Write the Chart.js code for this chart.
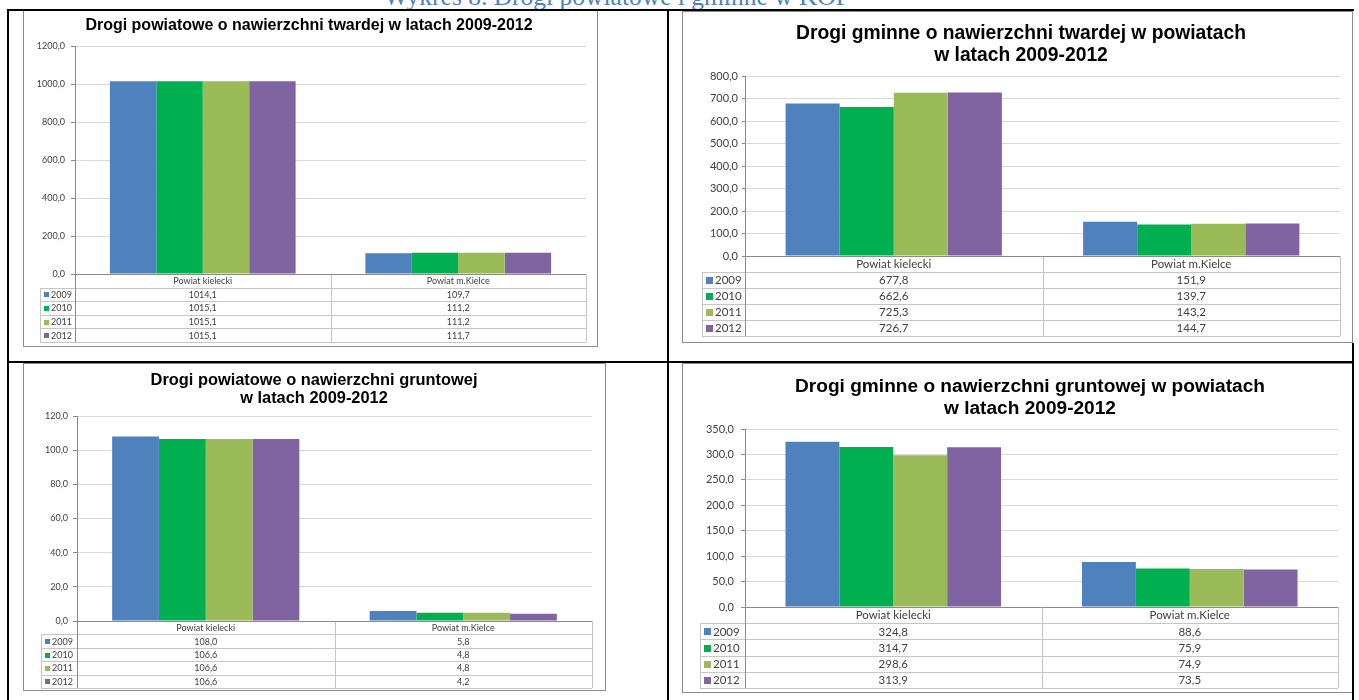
<!DOCTYPE html>
<html>
<head>
<meta charset="utf-8">
<script src="https://cdn.jsdelivr.net/npm/chart.js@4.4.1/dist/chart.umd.min.js"></script>
<style>
html, body { margin: 0; padding: 0; background: #fff; }
#page { position: relative; width: 1359px; height: 700px; overflow: hidden; background: #fff; }
.caption { position: absolute; left: 0; width: 1234px; top: -15px; text-align: center;
  font-family: "Liberation Serif", "DejaVu Serif", serif; font-size: 25.5px; line-height: 24px; color: #4f81bd; white-space: nowrap; }
.frame { position: absolute; border: 1px solid #8c8c8c; background: #fff; }
.frame canvas { display: block; }
.rule { position: absolute; background: #000; }
</style>
</head>
<body>
<div id="page">
  <div class="caption">Wykres 8. Drogi powiatowe i gminne w KOF</div>

  <div class="frame" style="left:23px;top:10px;width:573px;height:335px;"><canvas id="c1" width="573" height="335"></canvas></div>
  <div class="frame" style="left:682px;top:11px;width:669px;height:330px;"><canvas id="c2" width="669" height="330"></canvas></div>
  <div class="frame" style="left:23px;top:363px;width:581px;height:326px;"><canvas id="c3" width="581" height="326"></canvas></div>
  <div class="frame" style="left:682px;top:363px;width:669px;height:328px;"><canvas id="c4" width="669" height="328"></canvas></div>

  <div class="rule" style="left:7px;top:9px;width:1347px;height:2px;"></div>
  <div class="rule" style="left:7px;top:9px;width:2px;height:691px;"></div>
  <div class="rule" style="left:667px;top:9px;width:2px;height:691px;"></div>
  <div class="rule" style="left:7px;top:361px;width:1347px;height:2px;"></div>
  <div class="rule" style="left:1352px;top:343px;width:2px;height:357px;"></div>
</div>

<script>
// Shared categories and series
const categories = ['Powiat kielecki', 'Powiat m.Kielce'];
const years = ['2009', '2010', '2011', '2012'];
const yearColors = ['#4f81bd', '#00b050', '#9bbb59', '#8064a2'];

// Drogi powiatowe o nawierzchni twardej
const powTwarda2009 = [1014.1, 109.7];
const powTwarda2010 = [1015.1, 111.2];
const powTwarda2011 = [1015.1, 111.2];
const powTwarda2012 = [1015.1, 111.7];

// Drogi gminne o nawierzchni twardej
const gmTwarda2009 = [677.8, 151.9];
const gmTwarda2010 = [662.6, 139.7];
const gmTwarda2011 = [725.3, 143.2];
const gmTwarda2012 = [726.7, 144.7];

// Drogi powiatowe o nawierzchni gruntowej
const powGrunt2009 = [108.0, 5.8];
const powGrunt2010 = [106.6, 4.8];
const powGrunt2011 = [106.6, 4.8];
const powGrunt2012 = [106.6, 4.2];

// Drogi gminne o nawierzchni gruntowej
const gmGrunt2009 = [324.8, 88.6];
const gmGrunt2010 = [314.7, 75.9];
const gmGrunt2011 = [298.6, 74.9];
const gmGrunt2012 = [313.9, 73.5];

// Value axis ranges: [max, step]
const axisPowTwarda = [1200, 200];
const axisGmTwarda = [800, 100];
const axisPowGrunt = [120, 20];
const axisGmGrunt = [350, 50];

const FONT = 'Lato, "Liberation Sans", sans-serif';
const TITLE_FONT = '"Liberation Sans", Arial, sans-serif';
const fmt = v => v.toFixed(1).replace('.', ',');

// Moves the title block so its centre sits at a chosen x inside the canvas
const titleOffsetPlugin = {
  id: 'titleOffset',
  afterLayout(chart, args, opts) {
    const t = chart.titleBlock;
    if (!t || opts.center == null) return;
    const dx = opts.center - (t.left + t.right) / 2;
    t.left += dx;
    t.right += dx;
  }
};

// Draws the Excel-style data table underneath the plot, aligned to the category scale
const dataTablePlugin = {
  id: 'dataTable',
  afterDraw(chart, args, opts) {
    const { ctx, chartArea: ca, scales: { x } } = chart;
    const sets = chart.data.datasets;
    const rows = sets.length + 1;
    const rowH = x.height / rows;
    const top = ca.bottom;
    const bottom = top + x.height;
    const left = ca.left, right = ca.right;
    const legLeft = opts.legendLeft;
    const mid = (x.getPixelForValue(0) + x.getPixelForValue(1)) / 2;
    const px = v => Math.round(v) + 0.5;

    ctx.save();
    ctx.lineWidth = 1;
    ctx.strokeStyle = '#c6c6c6';
    ctx.beginPath();
    for (let r = 1; r <= rows; r++) {
      const y = px(top + rowH * r);
      ctx.moveTo(legLeft, y); ctx.lineTo(right, y);
    }
    ctx.moveTo(px(mid), top); ctx.lineTo(px(mid), bottom);
    ctx.moveTo(px(right), top); ctx.lineTo(px(right), bottom);
    ctx.moveTo(px(legLeft), px(top + rowH)); ctx.lineTo(px(legLeft), bottom);
    ctx.stroke();

    // value axis and category axis lines continuing through the table
    ctx.strokeStyle = '#8a8a8a';
    ctx.beginPath();
    ctx.moveTo(left, px(top)); ctx.lineTo(right, px(top));
    ctx.moveTo(px(left), top); ctx.lineTo(px(left), bottom);
    ctx.stroke();

    ctx.fillStyle = '#404040';
    ctx.font = opts.fontSize + 'px ' + FONT;
    ctx.textBaseline = 'middle';
    ctx.textAlign = 'center';
    const colCenters = [(left + mid) / 2, (mid + right) / 2];
    chart.data.labels.forEach((lab, i) => ctx.fillText(lab, colCenters[i], top + rowH / 2 + 0.5));

    const sq = Math.round(opts.fontSize * 0.6);
    sets.forEach((ds, r) => {
      const cy = top + rowH * (r + 1.5) + 0.5;
      ctx.fillStyle = ds.backgroundColor;
      ctx.fillRect(legLeft + 4, Math.round(cy - sq / 2), sq, sq);
      ctx.fillStyle = '#404040';
      ctx.textAlign = 'left';
      ctx.fillText(ds.label, legLeft + 6 + sq, cy);
      ctx.textAlign = 'center';
      ds.data.forEach((v, i) => ctx.fillText(fmt(v), colCenters[i], cy));
    });
    ctx.restore();
  }
};

function makeChart(id, titleLines, series, axis, L) {
  new Chart(document.getElementById(id), {
    type: 'bar',
    data: {
      labels: categories,
      datasets: series.map((values, i) => ({
        label: years[i],
        data: values,
        backgroundColor: yearColors[i],
        borderWidth: 0,
        categoryPercentage: 0.727,
        barPercentage: 1.0
      }))
    },
    options: {
      responsive: false,
      animation: false,
      devicePixelRatio: 1,
      layout: { padding: { left: L.padL, right: L.padR, top: 0, bottom: L.padB } },
      plugins: {
        legend: { display: false },
        tooltip: { enabled: false },
        title: {
          display: true,
          text: titleLines,
          color: '#000',
          font: { family: TITLE_FONT, size: L.titleSize, weight: 'bold', lineHeight: L.titleLH + 'px' },
          padding: { top: L.titleTop, bottom: L.titleBottom }
        },
        titleOffset: { center: L.titleCenter },
        dataTable: { legendLeft: L.legendLeft, fontSize: L.tableSize }
      },
      scales: {
        x: {
          grid: { display: false },
          border: { display: false },
          ticks: { display: false },
          afterFit: s => { s.height = L.xHeight; }
        },
        y: {
          min: 0,
          max: axis[0],
          afterFit: s => { s.width = L.yWidth; },
          grid: { color: '#d9d9d9', tickColor: '#8a8a8a', tickLength: L.tickLen, drawTicks: true },
          border: { color: '#8a8a8a' },
          ticks: {
            stepSize: axis[1],
            padding: L.tickPad,
            color: '#404040',
            font: { family: FONT, size: L.tickSize },
            callback: v => fmt(v)
          }
        }
      }
    },
    plugins: [titleOffsetPlugin, dataTablePlugin]
  });
}

makeChart('c1', 'Drogi powiatowe o nawierzchni twardej w latach 2009-2012',
  [powTwarda2009, powTwarda2010, powTwarda2011, powTwarda2012], axisPowTwarda,
  { padL: 6, padR: 11, padB: 4, yWidth: 45, xHeight: 68, titleSize: 16, titleLH: 18, titleTop: 6, titleBottom: 11,
    titleCenter: 285, tickSize: 9, tickLen: 4, tickPad: 6, legendLeft: 16, tableSize: 9 });

makeChart('c2', ['Drogi gminne o nawierzchni twardej w powiatach', 'w latach 2009-2012'],
  [gmTwarda2009, gmTwarda2010, gmTwarda2011, gmTwarda2012], axisGmTwarda,
  { padL: 10, padR: 12, padB: 6, yWidth: 52, xHeight: 80, titleSize: 19.3, titleLH: 22, titleTop: 11, titleBottom: 9,
    titleCenter: 338, tickSize: 11, tickLen: 3, tickPad: 4, legendLeft: 19, tableSize: 11.5 });

makeChart('c3', ['Drogi powiatowe o nawierzchni gruntowej', 'w latach 2009-2012'],
  [powGrunt2009, powGrunt2010, powGrunt2011, powGrunt2012], axisPowGrunt,
  { padL: 12, padR: 13, padB: 2, yWidth: 41, xHeight: 67, titleSize: 16.4, titleLH: 18, titleTop: 7, titleBottom: 9,
    titleCenter: 290, tickSize: 9, tickLen: 4, tickPad: 5, legendLeft: 17, tableSize: 9 });

makeChart('c4', ['Drogi gminne o nawierzchni gruntowej w powiatach', 'w latach 2009-2012'],
  [gmGrunt2009, gmGrunt2010, gmGrunt2011, gmGrunt2012], axisGmGrunt,
  { padL: 10, padR: 14, padB: 4, yWidth: 52, xHeight: 81, titleSize: 19.1, titleLH: 22, titleTop: 12, titleBottom: 9,
    titleCenter: 347, tickSize: 11, tickLen: 4, tickPad: 7, legendLeft: 17, tableSize: 11.5 });
</script>
</body>
</html>
